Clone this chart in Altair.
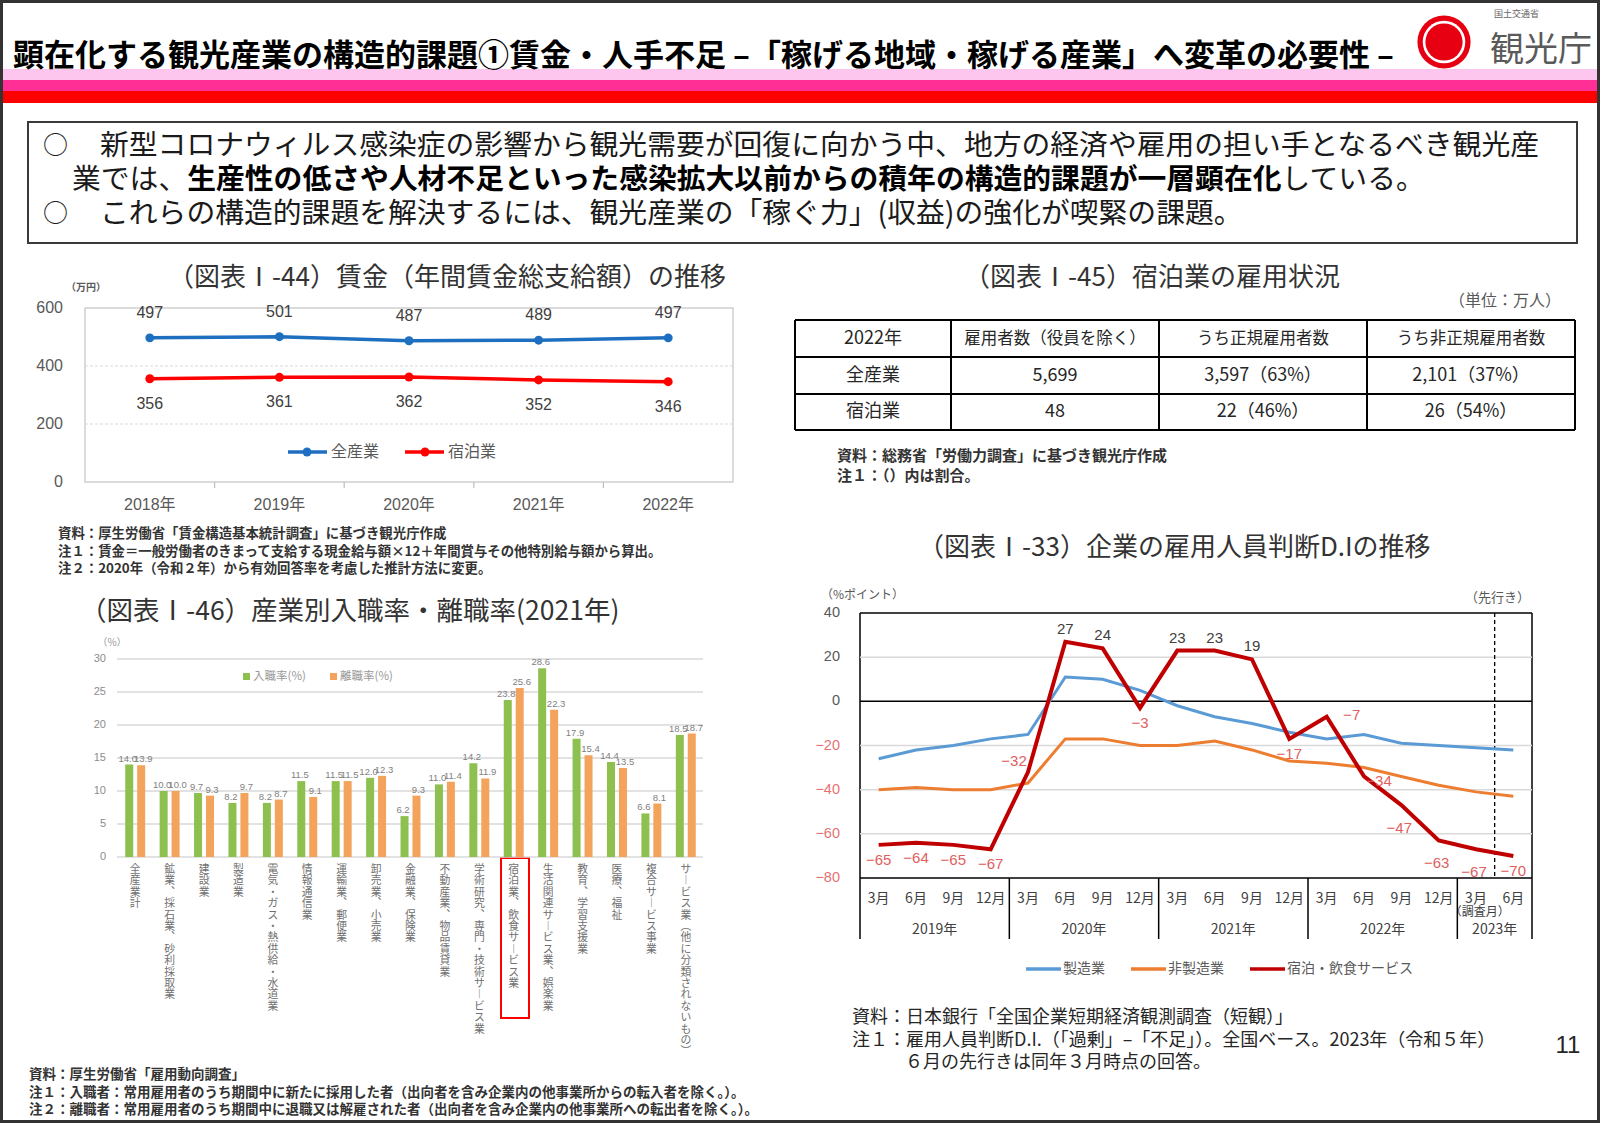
import altair as alt
import pandas as pd

JP = "Noto Sans CJK JP"
NUM = "Liberation Sans, Noto Sans CJK JP"

# ------------------------------------------------------------------ texts
title_text = "顕在化する観光産業の構造的課題①賃金・人手不足 –「稼げる地域・稼げる産業」へ変革の必要性 –"
lead_1 = "新型コロナウィルス感染症の影響から観光需要が回復に向かう中、地方の経済や雇用の担い手となるべき観光産"
lead_2a = "業では、"
lead_2b = "生産性の低さや人材不足といった感染拡大以前からの積年の構造的課題が一層顕在化"
lead_2c = "している。"
lead_3 = "これらの構造的課題を解決するには、観光産業の「稼ぐ力」(収益)の強化が喫緊の課題。"

# ------------------------------------------------------------------ wage chart data
wage_title = "（図表Ⅰ-44）賃金（年間賃金総支給額）の推移"
wage_years = ["2018年", "2019年", "2020年", "2021年", "2022年"]
wage_series = ["全産業", "宿泊業"]
wage_all = [497, 501, 487, 489, 497]
wage_hotel = [356, 361, 362, 352, 346]
wage_ticks = [0, 200, 400, 600]
wage_notes = [
    "資料：厚生労働省「賃金構造基本統計調査」に基づき観光庁作成",
    "注１：賃金＝一般労働者のきまって支給する現金給与額×12＋年間賞与その他特別給与額から算出。",
    "注２：2020年（令和２年）から有効回答率を考慮した推計方法に変更。",
]

# ------------------------------------------------------------------ bar chart data
bar_title = "（図表Ⅰ-46）産業別入職率・離職率(2021年)"
bar_categories = [
    "全産業計", "鉱業、採石業、砂利採取業", "建設業", "製造業", "電気・ガス・熱供給・水道業",
    "情報通信業", "運輸業、郵便業", "卸売業、小売業", "金融業、保険業", "不動産業、物品賃貸業",
    "学術研究、専門・技術サービス業", "宿泊業、飲食サービス業", "生活関連サービス業、娯楽業",
    "教育、学習支援業", "医療、福祉", "複合サービス事業", "サービス業（他に分類されないもの）",
]
bar_series = ["入職率(%)", "離職率(%)"]
hire_rate = [14.0, 10.0, 9.7, 8.2, 8.2, 11.5, 11.5, 12.0, 6.2, 11.0, 14.2, 23.8, 28.6, 17.9, 14.4, 6.6, 18.5]
sep_rate = [13.9, 10.0, 9.3, 9.7, 8.7, 9.1, 11.5, 12.3, 9.3, 11.4, 11.9, 25.6, 22.3, 15.4, 13.5, 8.1, 18.7]
bar_ticks = [0, 5, 10, 15, 20, 25, 30]
bar_notes = [
    "資料：厚生労働省「雇用動向調査」",
    "注１：入職者：常用雇用者のうち期間中に新たに採用した者（出向者を含み企業内の他事業所からの転入者を除く。）。",
    "注２：離職者：常用雇用者のうち期間中に退職又は解雇された者（出向者を含み企業内の他事業所への転出者を除く。）。",
]

# ------------------------------------------------------------------ table data
table_title = "（図表Ⅰ-45）宿泊業の雇用状況"
table_unit = "（単位：万人）"
table_header = ["2022年", "雇用者数（役員を除く）", "うち正規雇用者数", "うち非正規雇用者数"]
table_row_all = ["全産業", "5,699", "3,597（63%）", "2,101（37%）"]
table_row_hotel = ["宿泊業", "48", "22（46%）", "26（54%）"]
table_notes = ["資料：総務省「労働力調査」に基づき観光庁作成", "注１：（）内は割合。"]

# ------------------------------------------------------------------ DI chart data
di_title = "（図表Ⅰ-33）企業の雇用人員判断D.Iの推移"
di_period_year = ["2019年"] * 4 + ["2020年"] * 4 + ["2021年"] * 4 + ["2022年"] * 4 + ["2023年"] * 2
di_months = ["3月", "6月", "9月", "12月"] * 4 + ["3月", "6月"]
di_series = ["製造業", "非製造業", "宿泊・飲食サービス"]
di_manufacturing = [-26, -22, -20, -17, -15, 11, 10, 5, -2, -7, -10, -14, -17, -15, -19, -20, -21, -22]
di_nonmanufacturing = [-40, -39, -40, -40, -37, -17, -17, -20, -20, -18, -22, -27, -28, -30, -34, -38, -41, -43]
di_hotel = [-65, -64, -65, -67, -32, 27, 24, -3, 23, 23, 19, -17, -7, -34, -47, -63, -67, -70]
di_ticks = [40, 20, 0, -20, -40, -60, -80]
di_notes = [
    "資料：日本銀行「全国企業短期経済観測調査（短観）」",
    "注１：雇用人員判断D.I.（「過剰」–「不足」）。全国ベース。2023年（令和５年）",
    "６月の先行きは同年３月時点の回答。",
]

# ------------------------------------------------------------------ helpers
one = pd.DataFrame({"_": [0]})


def txt(s, x, y, size=14, color="#222222", weight="normal", align="left", font=JP, baseline="middle"):
    return alt.Chart(one).mark_text(
        text=s, fontSize=size, color=color, fontWeight=weight, align=align, baseline=baseline, font=font
    ).encode(x=alt.value(x), y=alt.value(y))


def box(x1, y1, x2, y2, fill=None, stroke=None, sw=1.0):
    kw = {}
    if fill is not None:
        kw["fill"] = fill
        kw["fillOpacity"] = 1
    else:
        kw["fillOpacity"] = 0
    if stroke is not None:
        kw["stroke"] = stroke
        kw["strokeWidth"] = sw
    else:
        kw["strokeWidth"] = 0
    return alt.Chart(one).mark_rect(**kw).encode(
        x=alt.value(x1), x2=alt.value(x2), y=alt.value(y1), y2=alt.value(y2)
    )


def seg(x1, y1, x2, y2, color="#000000", sw=1.0, dash=None):
    kw = dict(color=color, strokeWidth=sw)
    if dash:
        kw["strokeDash"] = dash
    return alt.Chart(one).mark_rule(**kw).encode(
        x=alt.value(x1), x2=alt.value(x2), y=alt.value(y1), y2=alt.value(y2)
    )


def dot(x, y, d, color):
    return alt.Chart(one).mark_point(shape="circle", filled=True, opacity=1, size=3.1416 * (d / 2) ** 2,
                                     color=color).encode(x=alt.value(x), y=alt.value(y))


layers = []

# ------------------------------------------------------------------ header
layers += [
    box(0, 0, 1600, 1123, fill="#ffffff"),
    box(0, 69, 1600, 80, fill="#fcc6ef"),
    box(0, 80, 1600, 91, fill="#ff2f96"),
    box(0, 91, 1600, 103, fill="#ff0000"),
    txt(title_text, 13, 57, size=31, color="#000000", weight="bold"),
    dot(1444, 42, 60, "#e60012"),
    dot(1444, 42, 48, "#ffffff"),
    dot(1444, 42, 42, "#e60012"),
    txt("国土交通省", 1494, 14, size=9, color="#666666"),
    txt("観光庁", 1490, 51, size=34, color="#5a5a5a"),
]

# ------------------------------------------------------------------ lead box
FS = 28.8
layers += [
    box(28, 122, 1577, 243, stroke="#3a3a3a", sw=2),
    txt("○", 43, 146, size=25, color="#1a1a1a"),
    txt(lead_1, 100, 146, size=FS, color="#1a1a1a"),
    txt(lead_2a, 72, 180, size=FS, color="#1a1a1a"),
    txt(lead_2b, 72 + len(lead_2a) * FS, 180, size=FS, color="#000000", weight="bold"),
    txt(lead_2c, 72 + (len(lead_2a) + len(lead_2b)) * FS, 180, size=FS, color="#1a1a1a"),
    txt("○", 43, 214, size=25, color="#1a1a1a"),
    txt(lead_3, 100, 214, size=FS, color="#1a1a1a"),
]

# ------------------------------------------------------------------ wage chart
wage_df = pd.DataFrame({
    "year": wage_years * 2,
    "series": [wage_series[0]] * len(wage_years) + [wage_series[1]] * len(wage_years),
    "value": wage_all + wage_hotel,
    "order": list(range(len(wage_years))) * 2,
})
WX = alt.Scale(type="point", domain=wage_years, range=[85, 733], padding=0.5)
WY = alt.Scale(domain=[0, 600], range=[482, 308], nice=False, zero=False)
WC = alt.Scale(domain=wage_series, range=["#1f6fc1", "#ff0000"])
wx = alt.X("year:N", scale=WX, axis=None)
wy = alt.Y("value:Q", scale=WY, axis=None)

wage_grid = alt.Chart(pd.DataFrame({"value": [200, 400]})).mark_rule(
    color="#d9d9d9", strokeWidth=1.2, strokeDash=[3, 2]).encode(y=wy, x=alt.value(85), x2=alt.value(733))
wage_lines = alt.Chart(wage_df).mark_line(strokeWidth=3.5).encode(
    x=wx, y=wy, color=alt.Color("series:N", scale=WC, legend=None), order="order:Q")
wage_pts = alt.Chart(wage_df).mark_point(filled=True, size=80, opacity=1).encode(
    x=wx, y=wy, color=alt.Color("series:N", scale=WC, legend=None))
wage_lab_top = alt.Chart(wage_df).transform_filter(alt.datum.series == wage_series[0]).mark_text(
    dy=-25, fontSize=16, color="#404040", font=NUM).encode(x=wx, y=wy, text="value:Q")
wage_lab_bot = alt.Chart(wage_df).transform_filter(alt.datum.series == wage_series[1]).mark_text(
    dy=25, fontSize=16, color="#404040", font=NUM).encode(x=wx, y=wy, text="value:Q")
wage_ylab = alt.Chart(pd.DataFrame({"value": wage_ticks})).mark_text(
    align="right", fontSize=16, color="#595959", font=NUM).encode(y=wy, x=alt.value(63), text="value:Q")
wage_xlab = alt.Chart(pd.DataFrame({"year": wage_years})).mark_text(
    fontSize=16, color="#595959", font=NUM).encode(x=wx, y=alt.value(505), text="year:N")
wage_tickm = alt.Chart(pd.DataFrame({"year": wage_years[:-1]})).mark_rule(
    color="#bfbfbf", strokeWidth=1.2, xOffset=64.8).encode(x=wx, y=alt.value(482), y2=alt.value(488))
wage_chart = alt.layer(wage_grid, wage_tickm, wage_lines, wage_pts, wage_lab_top, wage_lab_bot,
                       wage_ylab, wage_xlab)

layers += [
    txt(wage_title, 168, 278, size=26, color="#333333"),
    txt("（万円）", 66, 288, size=10, color="#595959", weight="bold"),
    box(85, 308, 733, 482, stroke="#d0d0d0", sw=1.5),
    seg(288, 452, 327, 452, color="#1f6fc1", sw=3.5),
    dot(307, 452, 10, "#1f6fc1"),
    txt(wage_series[0], 331, 452, size=16, color="#595959"),
    seg(405, 452, 444, 452, color="#ff0000", sw=3.5),
    dot(425, 452, 10, "#ff0000"),
    txt(wage_series[1], 448, 452, size=16, color="#595959"),
]
for i, n in enumerate(wage_notes):
    layers.append(txt(n, 58, 534 + i * 17.5, size=13.4, color="#333333", weight="bold"))

# ------------------------------------------------------------------ bar chart
VERT = {"ー": "︱", "、": "︑", "（": "︵", "）": "︶"}


def vertical(s):
    return "\n".join(VERT.get(c, c) for c in s)


nb = len(bar_categories)
bar_df = pd.DataFrame({
    "cat": bar_categories * 2,
    "series": [bar_series[0]] * nb + [bar_series[1]] * nb,
    "value": hire_rate + sep_rate,
})
cat_df = pd.DataFrame({"cat": bar_categories, "vert": [vertical(c) for c in bar_categories]})
BX = alt.Scale(type="band", domain=bar_categories, range=[118, 703], paddingInner=0.42, paddingOuter=0.21)
BY = alt.Scale(domain=[0, 30], range=[857, 659], nice=False, zero=True)
BO = alt.Scale(type="band", domain=bar_series, paddingInner=0.33, paddingOuter=0)
BC = alt.Scale(domain=bar_series, range=["#8dc04f", "#f3a35b"])
bx = alt.X("cat:N", scale=BX, axis=None)
by = alt.Y("value:Q", scale=BY, axis=None)
bo = alt.XOffset("series:N", scale=BO)

bar_grid = alt.Chart(pd.DataFrame({"value": bar_ticks})).mark_rule(
    color="#d9d9d9", strokeWidth=1.5).encode(y=by, x=alt.value(117), x2=alt.value(703))
bar_ylab = alt.Chart(pd.DataFrame({"value": bar_ticks})).mark_text(
    align="right", fontSize=11, color="#8c8c8c", font=NUM).encode(y=by, x=alt.value(106), text="value:Q")
bars = alt.Chart(bar_df).mark_bar().encode(
    x=bx, xOffset=bo, y=by, color=alt.Color("series:N", scale=BC, legend=None))
bar_lab_a = alt.Chart(bar_df).transform_filter(alt.datum.series == bar_series[0]).mark_text(
    dy=-6, dx=-1.5, fontSize=9.5, color="#7f7f7f", font=NUM).encode(
    x=bx, xOffset=bo, y=by, text=alt.Text("value:Q", format=".1f"))
bar_lab_b = alt.Chart(bar_df).transform_filter(alt.datum.series == bar_series[1]).mark_text(
    dy=-6, dx=2, fontSize=9.5, color="#7f7f7f", font=NUM).encode(
    x=bx, xOffset=bo, y=by, text=alt.Text("value:Q", format=".1f"))
bar_cat = alt.Chart(cat_df).mark_text(
    lineBreak="\n", baseline="top", align="center", fontSize=10.8, lineHeight=11.4,
    color="#707070", font=JP).encode(
    x=alt.X("cat:N", scale=BX, axis=None, bandPosition=0.5), y=alt.value(864), text="vert:N")
bar_chart = alt.layer(bar_grid, bar_ylab, bars, bar_lab_a, bar_lab_b, bar_cat)

layers += [
    txt(bar_title, 80, 612, size=26.5, color="#333333"),
    txt("（%）", 112, 643, size=10, color="#9a9a9a", align="center"),
    box(243, 673, 250, 680, fill="#8dc04f"),
    txt(bar_series[0], 253, 677, size=11.5, color="#9a9a9a"),
    box(330, 673, 337, 680, fill="#f3a35b"),
    txt(bar_series[1], 340, 677, size=11.5, color="#9a9a9a"),
    box(501, 858, 529, 1018, stroke="#ff0000", sw=2),
]
for i, n in enumerate(bar_notes):
    layers.append(txt(n, 29, 1075 + i * 17.5, size=13.5, color="#333333", weight="bold"))

# ------------------------------------------------------------------ table
cols = [795, 951, 1159, 1367, 1575]
rows = [320, 357, 394, 430]
layers += [
    txt(table_title, 964, 278, size=26, color="#333333"),
    txt(table_unit, 1561, 301, size=16, color="#595959", align="right"),
]
for r, cells in enumerate([table_header, table_row_all, table_row_hotel]):
    yc = (rows[r] + rows[r + 1]) / 2
    for c, s in enumerate(cells):
        xc = (cols[c] + cols[c + 1]) / 2
        size = 18 if (r > 0 or c == 0) else 16.5
        layers.append(txt(s, xc, yc, size=size, color="#262626", align="center"))
for xv in cols:
    layers.append(seg(xv, rows[0], xv, rows[-1], color="#000000", sw=2))
for yv in rows:
    layers.append(seg(cols[0], yv, cols[-1], yv, color="#000000", sw=2))
for i, n in enumerate(table_notes):
    layers.append(txt(n, 837, 456 + i * 20, size=15, color="#333333", weight="bold"))

# ------------------------------------------------------------------ DI chart
di_keys = [y + m for y, m in zip(di_period_year, di_months)]
nd = len(di_keys)
di_df = pd.DataFrame({
    "key": di_keys * 3,
    "series": [s for s in di_series for _ in range(nd)],
    "value": di_manufacturing + di_nonmanufacturing + di_hotel,
    "idx": list(range(nd)) * 3,
})
DX = alt.Scale(type="band", domain=di_keys, range=[860, 1532], paddingInner=0, paddingOuter=0)
DY = alt.Scale(domain=[-80, 40], range=[878, 613], nice=False, zero=False)
DC = alt.Scale(domain=di_series, range=["#5b9bd5", "#ed7d31", "#c00000"])


def dxe(bp=0.5):
    return alt.X("key:N", scale=DX, axis=None, bandPosition=bp)


dye = alt.Y("value:Q", scale=DY, axis=None)

di_grid = alt.Chart(pd.DataFrame({"value": [20, -20, -40, -60]})).mark_rule(
    color="#d9d9d9", strokeWidth=1.5).encode(y=dye, x=alt.value(860), x2=alt.value(1532))
di_zero = alt.Chart(pd.DataFrame({"value": [0]})).mark_rule(
    color="#000000", strokeWidth=1.5).encode(y=dye, x=alt.value(860), x2=alt.value(1532))
di_ylab_pos = alt.Chart(pd.DataFrame({"value": [t for t in di_ticks if t >= 0]})).mark_text(
    align="right", fontSize=14.5, color="#595959", font=NUM).encode(y=dye, x=alt.value(840), text="value:Q")
di_ylab_neg = alt.Chart(pd.DataFrame({"value": [t for t in di_ticks if t < 0]})).mark_text(
    align="right", fontSize=14.5, color="#e57373", font=NUM).encode(y=dye, x=alt.value(840), text="value:Q")
di_lines_a = alt.Chart(di_df).transform_filter(
    alt.FieldOneOfPredicate(field="series", oneOf=di_series[:2])).mark_line(strokeWidth=3).encode(
    x=dxe(), y=dye, color=alt.Color("series:N", scale=DC, legend=None), order="idx:Q")
di_lines_b = alt.Chart(di_df).transform_filter(alt.datum.series == di_series[2]).mark_line(
    strokeWidth=4).encode(x=dxe(), y=dye, color=alt.Color("series:N", scale=DC, legend=None), order="idx:Q")

# label placement for the hotel series
place = ["above" if v > 0 else "below" for v in di_hotel]
place[4] = "left"
place[12] = "right"
place[13] = "right2"
for i in (14, 15, 16):
    place[i] = "below2"
hot_df = pd.DataFrame({"key": di_keys, "value": di_hotel, "place": place})
offsets = {
    "above": (0, -13, "#404040"),
    "below": (0, 15, "#e06060"),
    "below2": (-2, 23, "#e06060"),
    "left": (-14, -11, "#e06060"),
    "right": (25, -2, "#e06060"),
    "right2": (15, 5, "#e06060"),
}
di_labels = []
for k, (ox, oy, col) in offsets.items():
    di_labels.append(
        alt.Chart(hot_df).transform_filter(alt.datum.place == k).mark_text(
            dx=ox, dy=oy, fontSize=15, color=col, font=NUM).encode(x=dxe(), y=dye, text="value:Q"))

month_df = pd.DataFrame({"key": di_keys, "month": di_months})
di_mlab = alt.Chart(month_df).mark_text(fontSize=14, color="#404040", font=JP).encode(
    x=dxe(), y=alt.value(899), text="month:N")
sep_df = pd.DataFrame({"key": [di_keys[i] for i in range(1, nd) if di_period_year[i] != di_period_year[i - 1]]})
di_sep = alt.Chart(sep_df).mark_rule(color="#000000", strokeWidth=1.5).encode(
    x=dxe(0), y=alt.value(878), y2=alt.value(939))
di_dash = alt.Chart(pd.DataFrame({"key": [di_keys[-1]]})).mark_rule(
    color="#000000", strokeWidth=1.3, strokeDash=[4, 3]).encode(x=dxe(0), y=alt.value(613), y2=alt.value(878))
year_anchor = []
for y in dict.fromkeys(di_period_year):
    members = [i for i in range(nd) if di_period_year[i] == y]
    year_anchor.append({"key": di_keys[members[len(members) // 2]], "year": y})
di_ylab_year = alt.Chart(pd.DataFrame(year_anchor)).mark_text(fontSize=14, color="#404040", font=JP).encode(
    x=dxe(0), y=alt.value(930), text="year:N")
di_survey = alt.Chart(pd.DataFrame({"key": [di_keys[-2]]})).mark_text(
    text="（調査月）", fontSize=12, color="#404040", font=JP).encode(x=dxe(0.6), y=alt.value(912))
di_chart = alt.layer(di_grid, di_zero, di_ylab_pos, di_ylab_neg, di_sep, di_dash, di_lines_a, di_lines_b,
                     *di_labels, di_mlab, di_ylab_year, di_survey)

layers += [
    txt(di_title, 918, 548, size=26, color="#333333"),
    txt("（%ポイント）", 821, 595, size=12, color="#595959"),
    txt("（先行き）", 1530, 598, size=13, color="#595959", align="right"),
    seg(860, 613, 1532, 613, sw=1.5),
    seg(860, 878, 1532, 878, sw=1.5),
    seg(860, 613, 860, 939, sw=1.5),
    seg(1532, 613, 1532, 939, sw=1.5),
    seg(1026, 969, 1061, 969, color="#5b9bd5", sw=3.5),
    txt(di_series[0], 1063, 969, size=14, color="#595959"),
    seg(1131, 969, 1166, 969, color="#ed7d31", sw=3.5),
    txt(di_series[1], 1168, 969, size=14, color="#595959"),
    seg(1250, 969, 1285, 969, color="#c00000", sw=3.5),
    txt(di_series[2], 1287, 969, size=14, color="#595959"),
    txt(di_notes[0], 852, 1018, size=18, color="#262626"),
    txt(di_notes[1], 852, 1041, size=18, color="#262626"),
    txt(di_notes[2], 905, 1063, size=18, color="#262626"),
    txt("11", 1568, 1046, size=24, color="#262626", align="center", font=NUM),
    box(1.5, 1.5, 1598.5, 1121.5, stroke="#333333", sw=3),
]

chart = alt.layer(*layers, wage_chart, bar_chart, di_chart).resolve_scale(
    x="independent", y="independent", color="independent"
).properties(
    width=1600, height=1123, padding=0, autosize=alt.AutoSizeParams(type="none"), background="white"
).configure_view(stroke=None)

chart.save("out.html", embed_options={"renderer": "svg", "actions": False})
